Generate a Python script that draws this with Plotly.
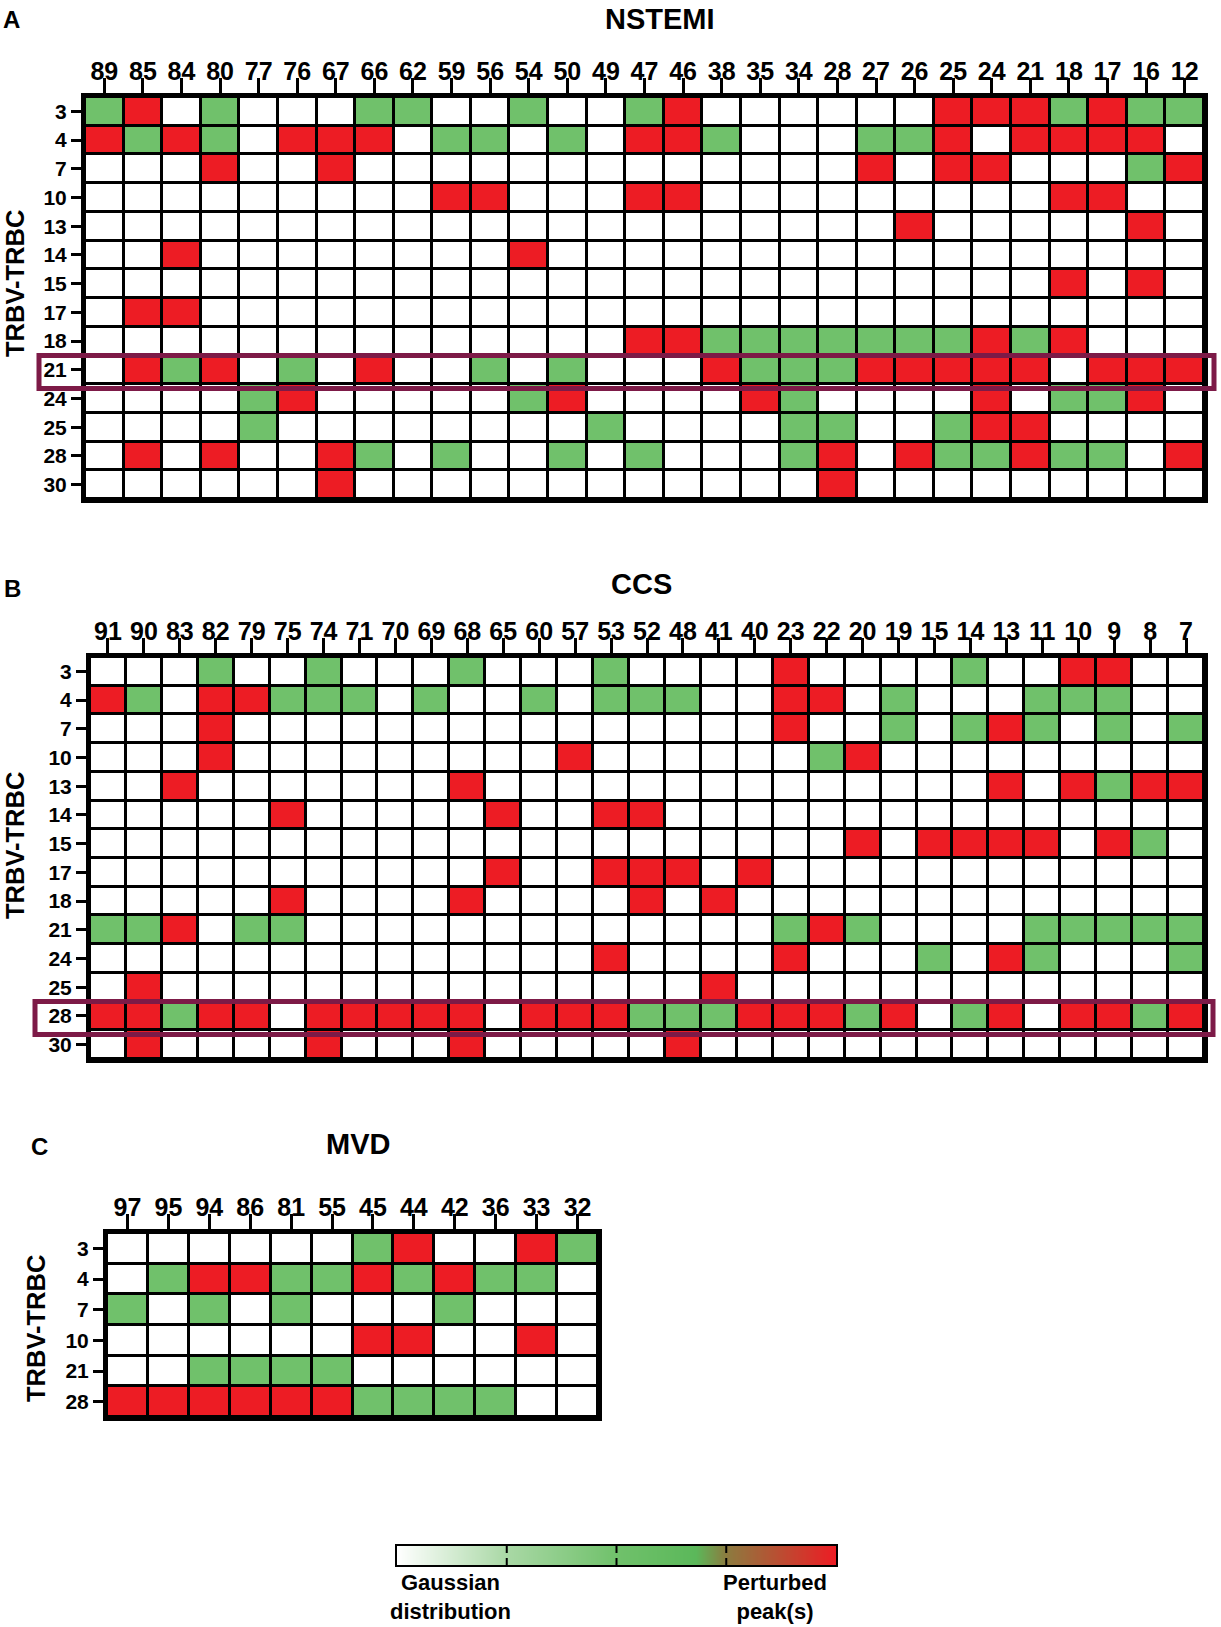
import plotly.graph_objects as go

W, H = 1221, 1627
FONT = "Liberation Sans, Arial, sans-serif"

# ---------------- data: 0 = Gaussian (white), 1 = intermediate (green), 2 = perturbed (red)
nstemi_rows = ["3", "4", "7", "10", "13", "14", "15", "17", "18", "21", "24", "25", "28", "30"]
nstemi_cols = ["89", "85", "84", "80", "77", "76", "67", "66", "62", "59", "56", "54", "50", "49", "47",
               "46", "38", "35", "34", "28", "27", "26", "25", "24", "21", "18", "17", "16", "12"]
nstemi_z = [
    [1, 2, 0, 1, 0, 0, 0, 1, 1, 0, 0, 1, 0, 0, 1, 2, 0, 0, 0, 0, 0, 0, 2, 2, 2, 1, 2, 1, 1],
    [2, 1, 2, 1, 0, 2, 2, 2, 0, 1, 1, 0, 1, 0, 2, 2, 1, 0, 0, 0, 1, 1, 2, 0, 2, 2, 2, 2, 0],
    [0, 0, 0, 2, 0, 0, 2, 0, 0, 0, 0, 0, 0, 0, 0, 0, 0, 0, 0, 0, 2, 0, 2, 2, 0, 0, 0, 1, 2],
    [0, 0, 0, 0, 0, 0, 0, 0, 0, 2, 2, 0, 0, 0, 2, 2, 0, 0, 0, 0, 0, 0, 0, 0, 0, 2, 2, 0, 0],
    [0, 0, 0, 0, 0, 0, 0, 0, 0, 0, 0, 0, 0, 0, 0, 0, 0, 0, 0, 0, 0, 2, 0, 0, 0, 0, 0, 2, 0],
    [0, 0, 2, 0, 0, 0, 0, 0, 0, 0, 0, 2, 0, 0, 0, 0, 0, 0, 0, 0, 0, 0, 0, 0, 0, 0, 0, 0, 0],
    [0, 0, 0, 0, 0, 0, 0, 0, 0, 0, 0, 0, 0, 0, 0, 0, 0, 0, 0, 0, 0, 0, 0, 0, 0, 2, 0, 2, 0],
    [0, 2, 2, 0, 0, 0, 0, 0, 0, 0, 0, 0, 0, 0, 0, 0, 0, 0, 0, 0, 0, 0, 0, 0, 0, 0, 0, 0, 0],
    [0, 0, 0, 0, 0, 0, 0, 0, 0, 0, 0, 0, 0, 0, 2, 2, 1, 1, 1, 1, 1, 1, 1, 2, 1, 2, 0, 0, 0],
    [0, 2, 1, 2, 0, 1, 0, 2, 0, 0, 1, 0, 1, 0, 0, 0, 2, 1, 1, 1, 2, 2, 2, 2, 2, 0, 2, 2, 2],
    [0, 0, 0, 0, 1, 2, 0, 0, 0, 0, 0, 1, 2, 0, 0, 0, 0, 2, 1, 0, 0, 0, 0, 2, 0, 1, 1, 2, 0],
    [0, 0, 0, 0, 1, 0, 0, 0, 0, 0, 0, 0, 0, 1, 0, 0, 0, 0, 1, 1, 0, 0, 1, 2, 2, 0, 0, 0, 0],
    [0, 2, 0, 2, 0, 0, 2, 1, 0, 1, 0, 0, 1, 0, 1, 0, 0, 0, 1, 2, 0, 2, 1, 1, 2, 1, 1, 0, 2],
    [0, 0, 0, 0, 0, 0, 2, 0, 0, 0, 0, 0, 0, 0, 0, 0, 0, 0, 0, 2, 0, 0, 0, 0, 0, 0, 0, 0, 0],
]

ccs_rows = ["3", "4", "7", "10", "13", "14", "15", "17", "18", "21", "24", "25", "28", "30"]
ccs_cols = ["91", "90", "83", "82", "79", "75", "74", "71", "70", "69", "68", "65", "60", "57", "53", "52",
            "48", "41", "40", "23", "22", "20", "19", "15", "14", "13", "11", "10", "9", "8", "7"]
ccs_z = [
    [0, 0, 0, 1, 0, 0, 1, 0, 0, 0, 1, 0, 0, 0, 1, 0, 0, 0, 0, 2, 0, 0, 0, 0, 1, 0, 0, 2, 2, 0, 0],
    [2, 1, 0, 2, 2, 1, 1, 1, 0, 1, 0, 0, 1, 0, 1, 1, 1, 0, 0, 2, 2, 0, 1, 0, 0, 0, 1, 1, 1, 0, 0],
    [0, 0, 0, 2, 0, 0, 0, 0, 0, 0, 0, 0, 0, 0, 0, 0, 0, 0, 0, 2, 0, 0, 1, 0, 1, 2, 1, 0, 1, 0, 1],
    [0, 0, 0, 2, 0, 0, 0, 0, 0, 0, 0, 0, 0, 2, 0, 0, 0, 0, 0, 0, 1, 2, 0, 0, 0, 0, 0, 0, 0, 0, 0],
    [0, 0, 2, 0, 0, 0, 0, 0, 0, 0, 2, 0, 0, 0, 0, 0, 0, 0, 0, 0, 0, 0, 0, 0, 0, 2, 0, 2, 1, 2, 2],
    [0, 0, 0, 0, 0, 2, 0, 0, 0, 0, 0, 2, 0, 0, 2, 2, 0, 0, 0, 0, 0, 0, 0, 0, 0, 0, 0, 0, 0, 0, 0],
    [0, 0, 0, 0, 0, 0, 0, 0, 0, 0, 0, 0, 0, 0, 0, 0, 0, 0, 0, 0, 0, 2, 0, 2, 2, 2, 2, 0, 2, 1, 0],
    [0, 0, 0, 0, 0, 0, 0, 0, 0, 0, 0, 2, 0, 0, 2, 2, 2, 0, 2, 0, 0, 0, 0, 0, 0, 0, 0, 0, 0, 0, 0],
    [0, 0, 0, 0, 0, 2, 0, 0, 0, 0, 2, 0, 0, 0, 0, 2, 0, 2, 0, 0, 0, 0, 0, 0, 0, 0, 0, 0, 0, 0, 0],
    [1, 1, 2, 0, 1, 1, 0, 0, 0, 0, 0, 0, 0, 0, 0, 0, 0, 0, 0, 1, 2, 1, 0, 0, 0, 0, 1, 1, 1, 1, 1],
    [0, 0, 0, 0, 0, 0, 0, 0, 0, 0, 0, 0, 0, 0, 2, 0, 0, 0, 0, 2, 0, 0, 0, 1, 0, 2, 1, 0, 0, 0, 1],
    [0, 2, 0, 0, 0, 0, 0, 0, 0, 0, 0, 0, 0, 0, 0, 0, 0, 2, 0, 0, 0, 0, 0, 0, 0, 0, 0, 0, 0, 0, 0],
    [2, 2, 1, 2, 2, 0, 2, 2, 2, 2, 2, 0, 2, 2, 2, 1, 1, 1, 2, 2, 2, 1, 2, 0, 1, 2, 0, 2, 2, 1, 2],
    [0, 2, 0, 0, 0, 0, 2, 0, 0, 0, 2, 0, 0, 0, 0, 0, 2, 0, 0, 0, 0, 0, 0, 0, 0, 0, 0, 0, 0, 0, 0],
]

mvd_rows = ["3", "4", "7", "10", "21", "28"]
mvd_cols = ["97", "95", "94", "86", "81", "55", "45", "44", "42", "36", "33", "32"]
mvd_z = [
    [0, 0, 0, 0, 0, 0, 1, 2, 0, 0, 2, 1],
    [0, 1, 2, 2, 1, 1, 2, 1, 2, 1, 1, 0],
    [1, 0, 1, 0, 1, 0, 0, 0, 1, 0, 0, 0],
    [0, 0, 0, 0, 0, 0, 2, 2, 0, 0, 2, 0],
    [0, 0, 1, 1, 1, 1, 0, 0, 0, 0, 0, 0],
    [2, 2, 2, 2, 2, 2, 1, 1, 1, 1, 0, 0],
]

titles = ["NSTEMI", "CCS", "MVD"]
letters = ["A", "B", "C"]
highlight_rows = ["21", "28", None]
legend_levels = [0, 2]          # ends of the colour key (Gaussian -> perturbed)
legend_dividers = [0.25, 0.5, 0.75]
legend_left = "Gaussian<br>distribution"
legend_right = "Perturbed<br>peak(s)"

# ---------------- style
COLORSCALE = [
    [0.0, "#ffffff"],
    [0.25, "#a9d8a5"],
    [0.5, "#70c16b"],
    [0.68, "#5bb85a"],
    [0.75, "#8c7b3f"],
    [1.0, "#ed1c24"],
]
HIGHLIGHT = "#7d1a47"

# pixel boxes (left, top, right, bottom) of each grid
boxes = [(85, 97, 1204, 499), (90, 657, 1204, 1059), (107, 1233, 598, 1417)]
title_pos = [(660, 19), (641, 584), (358, 1144)]
letter_pos = [(1, 19), (2, 588), (29, 1146)]
ytitle_pos = [(15, 284), (15, 846), (36, 1329)]
hl_x = [(39, 1214), (35, 1213), None]
key_box = (397, 1546, 836, 1565)

panels = [
    (nstemi_rows, nstemi_cols, nstemi_z),
    (ccs_rows, ccs_cols, ccs_z),
    (mvd_rows, mvd_cols, mvd_z),
]

fig = go.Figure()
layout = dict(
    width=W, height=H,
    margin=dict(l=0, r=0, t=0, b=0),
    paper_bgcolor="white",
    plot_bgcolor="black",
    showlegend=False,
    font=dict(family=FONT, color="black"),
)
annotations = []
shapes = []

for i, (rows, cols, z) in enumerate(panels):
    xa = "x" if i == 0 else f"x{i + 1}"
    ya = "y" if i == 0 else f"y{i + 1}"
    fig.add_trace(go.Heatmap(
        z=z, x=cols, y=rows,
        xaxis=xa, yaxis=ya,
        colorscale=COLORSCALE, zmin=0, zmax=2,
        xgap=3, ygap=3,
        hoverinfo="skip",
        showscale=False,
    ))
    l, t, r, b = boxes[i]
    layout["xaxis" if i == 0 else f"xaxis{i + 1}"] = dict(
        domain=[l / W, r / W], anchor=ya, side="top", type="category",
        ticks="outside", ticklen=15, tickwidth=3, tickcolor="black",
        showline=True, linewidth=4, linecolor="black", mirror=True,
        showgrid=False, zeroline=False, ticklabelstandoff=-12,
        tickfont=dict(family=FONT, size=25, color="black", weight="bold"),
    )
    layout["yaxis" if i == 0 else f"yaxis{i + 1}"] = dict(
        domain=[1 - b / H, 1 - t / H], anchor=xa, type="category",
        autorange="reversed",
        ticks="outside", ticklen=10, tickwidth=3, tickcolor="black",
        showline=True, linewidth=4, linecolor="black", mirror=True,
        showgrid=False, zeroline=False,
        tickfont=dict(family=FONT, size=21, color="black", weight="bold"),
    )
    tx, ty = title_pos[i]
    annotations.append(dict(text=titles[i], x=tx / W, y=1 - ty / H, xref="paper", yref="paper",
                            xanchor="center", yanchor="middle", showarrow=False,
                            font=dict(family=FONT, size=29, color="black", weight="bold")))
    lx, ly = letter_pos[i]
    annotations.append(dict(text=letters[i], x=lx / W, y=1 - ly / H, xref="paper", yref="paper",
                            xanchor="left", yanchor="middle", showarrow=False,
                            font=dict(family=FONT, size=24, color="black", weight="bold")))
    yx, yy = ytitle_pos[i]
    annotations.append(dict(text="TRBV-TRBC", x=yx / W, y=1 - yy / H, xref="paper", yref="paper",
                            xanchor="center", yanchor="middle", textangle=-90, showarrow=False,
                            font=dict(family=FONT, size=25.5, color="black", weight="bold")))
    if highlight_rows[i] is not None:
        k = rows.index(highlight_rows[i])
        x0, x1 = hl_x[i]
        shapes.append(dict(type="rect", xref="paper", yref=ya,
                           x0=x0 / W, x1=x1 / W, y0=k - 0.5, y1=k + 0.65,
                           line=dict(color=HIGHLIGHT, width=5), fillcolor="rgba(0,0,0,0)"))

# ---------------- colour key (gradient between the two ends of the scale)
kl, kt, kr, kb = key_box
fig.add_trace(go.Heatmap(
    z=[legend_levels, legend_levels], x=[0, 1], y=[0, 1],
    xaxis="x4", yaxis="y4", zsmooth="best",
    colorscale=COLORSCALE, zmin=0, zmax=2,
    hoverinfo="skip", showscale=False,
))
layout["xaxis4"] = dict(domain=[kl / W, kr / W], anchor="y4", range=[0, 1],
                        showline=True, linewidth=2, linecolor="black", mirror=True,
                        showticklabels=False, ticks="", showgrid=False, zeroline=False)
layout["yaxis4"] = dict(domain=[1 - kb / H, 1 - kt / H], anchor="x4", range=[0, 1],
                        showline=True, linewidth=2, linecolor="black", mirror=True,
                        showticklabels=False, ticks="", showgrid=False, zeroline=False)
for frac in legend_dividers:
    shapes.append(dict(type="line", xref="x4", yref="y4", x0=frac, x1=frac, y0=0, y1=1,
                       line=dict(color="black", width=2, dash="7px,5px")))

annotations.append(dict(text=legend_left, x=450 / W, y=1 - 1597 / H, xref="paper", yref="paper",
                        xanchor="center", yanchor="middle", align="center", showarrow=False,
                        font=dict(family=FONT, size=22, color="black", weight="bold")))
annotations.append(dict(text=legend_right, x=775 / W, y=1 - 1597 / H, xref="paper", yref="paper",
                        xanchor="center", yanchor="middle", align="center", showarrow=False,
                        font=dict(family=FONT, size=22, color="black", weight="bold")))

layout["annotations"] = annotations
layout["shapes"] = shapes
fig.update_layout(**layout)
fig.write_html("out.html", config={"displayModeBar": False},
               post_script="document.body.style.margin='0';")
